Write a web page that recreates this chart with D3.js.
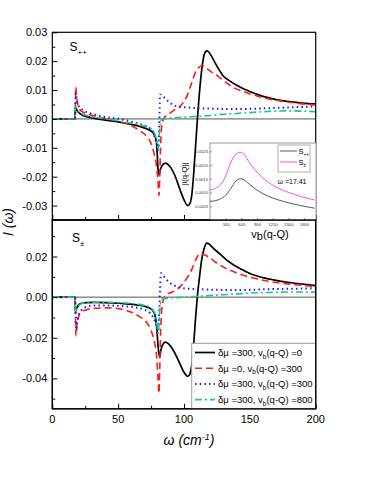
<!DOCTYPE html>
<html>
<head>
<meta charset="utf-8">
<script src="https://cdn.jsdelivr.net/npm/d3@7"></script>
<style>
    body { margin: 0; background: #ffffff; }
    svg { font-family: 'Liberation Sans', Arial, sans-serif; }
</style>
</head>
<body>
<script>
// S++ panel, [omega, I]
const top_black = [[0,0],[17.3,0],[17.6,0.0043],[18.5,0.0032],[20,0.0022],[23,0.0013],[27,0.0007],[32,0.0002],[40,-0.0004],[50,-0.001],[60,-0.0019],[67,-0.0027],[72,-0.0035],[76,-0.0046],[78,-0.006],[79.2,-0.0085],[79.8,-0.013],[80.3,-0.0175],[81,-0.0194],[82,-0.0175],[84,-0.0158],[86,-0.0153],[89,-0.0163],[93,-0.0195],[97,-0.0245],[100,-0.028],[102.8,-0.030],[104.5,-0.0293],[106,-0.026],[107.5,-0.018],[109,-0.008],[110.2,0],[112,0.0105],[114,0.019],[115.5,0.0225],[117.2,0.0236],[119,0.0231],[122,0.0208],[126,0.0175],[130,0.0148],[135,0.0131],[140,0.0117],[150,0.0095],[160,0.0078],[170,0.0067],[180,0.006],[190,0.0055],[200,0.0052]];
const top_red = [[0,0],[17.3,0],[17.8,0.011],[18.5,0.0075],[19.5,0.0048],[21,0.0032],[24,0.0022],[28,0.0015],[35,0.0007],[42,0],[50,-0.0008],[57,-0.0017],[62,-0.0028],[67,-0.0042],[72,-0.0062],[75,-0.0085],[77,-0.0115],[79,-0.016],[80.2,-0.021],[81,-0.0265],[81.6,-0.02],[82.2,-0.01],[83,-0.003],[85,0.0004],[89.4,0.002],[93,0.0032],[96.9,0.0043],[102,0.0077],[105.8,0.0124],[109.6,0.017],[113.9,0.0184],[117,0.0176],[121,0.0162],[125,0.0151],[130,0.0133],[137,0.011],[145,0.0095],[152,0.0084],[160,0.0074],[168,0.0066],[180,0.0058],[190,0.0052],[200,0.0048]];
const top_blue = [[0,0],[17.3,0],[17.8,0.0089],[18.5,0.0068],[19.8,0.0048],[21.5,0.0037],[23.5,0.003],[28.6,0.002],[35,0.0012],[41,0.0006],[51.4,0],[58,-0.0007],[64,-0.0015],[70,-0.0023],[74,-0.0032],[76.5,-0.0045],[78,-0.0067],[79.5,-0.009],[80.5,-0.0107],[81.2,-0.002],[81.8,0.0085],[83,0.0082],[85,0.0074],[87,0.0065],[90,0.0054],[93,0.0046],[97,0.0042],[105,0.0039],[112,0.0037],[125,0.0035],[137,0.0034],[150,0.0035],[163,0.0037],[180,0.004],[200,0.0043]];
const top_green = [[0,0],[17.3,0],[17.6,0.0043],[18.5,0.0035],[20,0.0026],[23,0.0017],[27,0.0011],[32,0.0006],[40,0.0001],[50,-0.0006],[58,-0.0013],[65,-0.0019],[70,-0.0025],[74,-0.0032],[77,-0.0045],[78.8,-0.0065],[79.8,-0.0092],[80.4,-0.0102],[81.2,-0.006],[82,-0.002],[83,0],[90,0.0003],[100,0.0006],[110,0.0009],[120,0.0012],[130,0.0016],[140,0.0019],[150,0.0022],[160,0.0025],[170,0.0027],[180,0.0028],[190,0.0027],[200,0.0025]];

// S+- panel
const bot_black = [[0,0],[17.3,0],[17.6,-0.007],[18.5,-0.0055],[20,-0.0038],[22,-0.003],[26,-0.0027],[32,-0.0026],[40,-0.0027],[50,-0.003],[58,-0.0034],[65,-0.0039],[70,-0.0045],[74,-0.0054],[76.5,-0.0068],[78,-0.009],[79.3,-0.015],[80.3,-0.024],[81.5,-0.0298],[82.5,-0.026],[84,-0.0232],[86,-0.0222],[89,-0.0235],[93,-0.0275],[97,-0.033],[100,-0.037],[102.8,-0.039],[104.5,-0.0378],[106,-0.033],[107.5,-0.022],[108.7,-0.011],[110.1,0],[111.8,0.01],[113.4,0.0184],[115.3,0.024],[117.2,0.0266],[119,0.0262],[122,0.0243],[127,0.0214],[132,0.0185],[137.4,0.016],[145,0.0133],[152.6,0.011],[160,0.0096],[168,0.0085],[180,0.0072],[190,0.0064],[200,0.0057]];
const bot_red = [[0,0],[17.3,0],[17.9,-0.019],[18.8,-0.013],[20,-0.0095],[22,-0.0075],[26,-0.0062],[32,-0.0055],[40,-0.0053],[48,-0.0055],[55,-0.0063],[61.5,-0.0078],[66,-0.0095],[71.7,-0.0125],[75,-0.0165],[77.5,-0.022],[79.3,-0.03],[80.3,-0.04],[81,-0.0474],[81.6,-0.035],[82.2,-0.018],[83,-0.007],[84.5,-0.001],[87,0.0012],[91,0.0025],[95,0.004],[99,0.0065],[103,0.0102],[106,0.0138],[109,0.0185],[112,0.0214],[115,0.021],[119,0.0196],[124.8,0.0168],[130,0.0148],[137.4,0.0126],[145,0.0108],[152.6,0.0094],[160,0.0083],[170,0.0072],[180,0.0064],[190,0.0058],[200,0.0052]];
const bot_blue = [[0,0],[17.3,0],[18.2,-0.016],[19,-0.012],[20,-0.0088],[22,-0.0065],[25,-0.005],[30,-0.0042],[40,-0.0041],[50,-0.0043],[58,-0.0047],[65,-0.0053],[70,-0.0062],[74,-0.0077],[77,-0.0105],[79,-0.0138],[80.5,-0.017],[81.3,-0.005],[82.5,0.0118],[84,0.0108],[86.9,0.0085],[89,0.0072],[91.9,0.006],[95,0.0052],[99.5,0.0044],[105,0.0041],[112,0.0039],[125,0.0036],[137,0.0035],[150,0.0036],[163,0.0039],[180,0.0041],[200,0.0044]];
const bot_green = [[0,0],[17.3,0],[17.7,-0.0075],[18.6,-0.0058],[20,-0.0042],[22,-0.0032],[26,-0.0027],[32,-0.0025],[40,-0.0025],[50,-0.0027],[58,-0.003],[65,-0.0035],[70,-0.0041],[74,-0.005],[76.5,-0.0065],[78.3,-0.009],[79.5,-0.0135],[80.4,-0.0178],[81.3,-0.009],[82.2,-0.003],[83.5,-0.0008],[90,-0.0004],[100,0],[110,0.0004],[120,0.0008],[130,0.0012],[140,0.0016],[150,0.002],[160,0.0022],[170,0.0024],[180,0.0025],[190,0.0025],[200,0.0024]];

// inset: |I(q-Q)| vs vb(q-Q) at omega = 17.41
const inset_spp = [[0,0.00068],[100,0.0007],[200,0.00077],[300,0.0009],[400,0.00115],[500,0.00142],[580,0.0015],[650,0.00146],[750,0.00131],[850,0.00116],[1000,0.00097],[1200,0.0008],[1400,0.00068],[1600,0.00058],[1800,0.0005],[2000,0.00043]];
const inset_spm = [[0,0.00109],[100,0.00115],[200,0.00128],[300,0.0016],[400,0.0021],[500,0.0024],[580,0.00246],[650,0.0024],[750,0.0021],[850,0.00185],[1000,0.00155],[1200,0.00127],[1400,0.00108],[1600,0.00094],[1800,0.00082],[2000,0.00073]];

const x_ticks = [0, 50, 100, 150, 200];
const x_minor = [25, 75, 125, 175];
const top_ticks = [-0.03, -0.02, -0.01, 0, 0.01, 0.02, 0.03];
const top_minor = [-0.035, -0.025, -0.015, -0.005, 0.005, 0.015, 0.025];
const bot_ticks = [-0.04, -0.02, 0, 0.02];
const bot_minor = [-0.05, -0.03, -0.01, 0.01, 0.03];
const inset_xticks = [300, 600, 900, 1200, 1500, 1800];
const inset_yticks = [0.0005, 0.001, 0.0015, 0.002, 0.0025];
const legend_labels = [['=300', '=0'], ['=0', '=300'], ['=300', '=300'], ['=300', '=800']];

(function() {
    const width = 374, height = 484;
    const left = 52.3, right = 315.7, top = 32.3, mid = 220, bottom = 408.8;

    let svg = d3.select('body').append('svg')
        .attr('width', width)
        .attr('height', height);

    let x = d3.scaleLinear().domain([0, 200]).range([left, right]);
    let y_top = d3.scaleLinear().domain([-0.035, 0.03]).range([mid, top]);
    let y_bot = d3.scaleLinear().domain([-0.055, 0.038]).range([bottom, mid]);

    const styles = [
        {color: '#000000', dash: null, w: 1.7},
        {color: '#ff1a1a', dash: '7,4', w: 1.6},
        {color: '#1a1aff', dash: '1.5,3.2', w: 2},
        {color: '#19c98c', dash: '7,3,2,3', w: 1.6}
    ];

    let fmt = (d) => (Math.abs(d) < 1e-9 ? '0.00' : d.toFixed(2));

    let draw_panel = function(y, series, ticks, minor, clip_id, y0, y1) {
        svg.append('clipPath').attr('id', clip_id)
            .append('rect')
            .attr('x', left).attr('y', y0)
            .attr('width', right - left).attr('height', y1 - y0);

        // zero line
        svg.append('line')
            .attr('x1', left).attr('x2', right)
            .attr('y1', y(0)).attr('y2', y(0))
            .attr('stroke', '#555555')
            .attr('stroke-width', 1);

        let line = d3.line()
            .x((d) => x(d[0]))
            .y((d) => y(d[1]))
            .curve(d3.curveMonotoneX);

        let g = svg.append('g').attr('clip-path', `url(#${clip_id})`);
        series.forEach(function(data, i) {
            g.append('path').datum(data)
                .attr('fill', 'none')
                .attr('stroke', styles[i].color)
                .attr('stroke-width', styles[i].w)
                .attr('stroke-dasharray', styles[i].dash)
                .attr('d', line);
        });

        // y axis, ticks pointing in
        let ax = svg.append('g')
            .attr('transform', `translate(${left},0)`)
            .call(d3.axisLeft(y).tickValues(ticks).tickSizeInner(-5).tickSizeOuter(0)
                .tickPadding(5).tickFormat(fmt));
        ax.select('.domain').remove();
        ax.selectAll('text').attr('font-size', 11).attr('font-family', "'Liberation Sans', Arial, sans-serif");
        ax.selectAll('line').attr('stroke-width', 1);

        svg.append('g')
            .attr('transform', `translate(${left},0)`)
            .call(d3.axisLeft(y).tickValues(minor).tickSizeInner(-3).tickSizeOuter(0).tickFormat(''))
            .select('.domain').remove();

        // x ticks on bottom edge, pointing up
        let xa = svg.append('g')
            .attr('transform', `translate(0,${y1})`)
            .call(d3.axisBottom(x).tickValues(x_ticks).tickSizeInner(-5).tickSizeOuter(0).tickFormat(''));
        xa.select('.domain').remove();
        let xm = svg.append('g')
            .attr('transform', `translate(0,${y1})`)
            .call(d3.axisBottom(x).tickValues(x_minor).tickSizeInner(-3).tickSizeOuter(0).tickFormat(''));
        xm.select('.domain').remove();

        svg.append('rect')
            .attr('x', left).attr('y', y0)
            .attr('width', right - left).attr('height', y1 - y0)
            .attr('fill', 'none')
            .attr('stroke', '#000000')
            .attr('stroke-width', 1.2);
    };

    draw_panel(y_top, [top_black, top_red, top_blue, top_green], top_ticks, top_minor, 'clip-top', top, mid);
    draw_panel(y_bot, [bot_black, bot_red, bot_blue, bot_green], bot_ticks, bot_minor, 'clip-bot', mid, bottom);

    // x tick labels
    svg.append('g').selectAll('text')
        .data(x_ticks)
        .enter().append('text')
        .attr('x', (d) => x(d))
        .attr('y', 423)
        .attr('text-anchor', 'middle')
        .attr('font-size', 11)
        .text((d) => d);

    // axis titles
    let xt = svg.append('text')
        .attr('x', 189).attr('y', 445)
        .attr('text-anchor', 'middle')
        .attr('font-size', 14)
        .attr('font-style', 'italic');
    xt.append('tspan').text('ω (cm');
    xt.append('tspan').attr('dy', -5).attr('font-size', 9).text('-1');
    xt.append('tspan').attr('dy', 5).text(')');

    svg.append('text')
        .attr('transform', 'translate(13,222) rotate(-90)')
        .attr('text-anchor', 'middle')
        .attr('font-size', 14)
        .attr('font-style', 'italic')
        .text('I (ω)');

    // panel labels
    let lab = function(px, py, sub) {
        let t = svg.append('text').attr('x', px).attr('y', py).attr('font-size', 12);
        t.append('tspan').text('S');
        t.append('tspan').attr('dy', 4).attr('font-size', 8).text(sub);
    };
    lab(69.5, 51, '++');
    lab(72, 242, '±');

    // inset
    const ix0 = 210, ix1 = 316, iy0 = 143, iy1 = 220;
    let ix = d3.scaleLinear().domain([0, 2030]).range([ix0, ix1]);
    let iy = d3.scaleLinear().domain([0, 0.0028]).range([iy1, iy0]);

    svg.append('rect')
        .attr('x', ix0).attr('y', iy0)
        .attr('width', ix1 - ix0).attr('height', iy1 - iy0)
        .attr('fill', '#ffffff')
        .attr('stroke', '#9a9a9a')
        .attr('stroke-width', 1);

    let iline = d3.line()
        .x((d) => ix(d[0]))
        .y((d) => iy(d[1]))
        .curve(d3.curveMonotoneX);

    svg.append('path').datum(inset_spp)
        .attr('fill', 'none').attr('stroke', '#444444').attr('stroke-width', 0.9)
        .attr('d', iline);
    svg.append('path').datum(inset_spm)
        .attr('fill', 'none').attr('stroke', '#ff33ff').attr('stroke-width', 0.9)
        .attr('d', iline);

    let iya = svg.append('g')
        .attr('transform', `translate(${ix0},0)`)
        .call(d3.axisLeft(iy).tickValues(inset_yticks).tickSizeInner(-2).tickSizeOuter(0)
            .tickPadding(2).tickFormat((d) => d.toFixed(4)));
    iya.select('.domain').remove();
    iya.selectAll('text').attr('font-size', 4.2).attr('fill', '#333333');
    iya.selectAll('line').attr('stroke', '#555555').attr('stroke-width', 0.6);

    let ixa = svg.append('g')
        .attr('transform', `translate(0,${iy1})`)
        .call(d3.axisBottom(ix).tickValues(inset_xticks).tickSizeInner(-2).tickSizeOuter(0)
            .tickPadding(3).tickFormat((d) => d));
    ixa.select('.domain').remove();
    ixa.selectAll('text').attr('font-size', 4.2).attr('fill', '#333333');
    ixa.selectAll('line').attr('stroke', '#555555').attr('stroke-width', 0.6);

    svg.append('text')
        .attr('transform', 'translate(187,174) rotate(-90)')
        .attr('text-anchor', 'middle')
        .attr('font-size', 7.5)
        .text('|I(q-Q)|');

    let vb = svg.append('text')
        .attr('x', 270).attr('y', 238)
        .attr('text-anchor', 'middle')
        .attr('font-size', 11);
    vb.append('tspan').text('v');
    vb.append('tspan').attr('dy', 2).text('b');
    vb.append('tspan').attr('dy', -2).text('(q-Q)');

    // inset legend
    let il = svg.append('g');
    il.append('rect')
        .attr('x', 278).attr('y', 145)
        .attr('width', 32).attr('height', 27)
        .attr('fill', '#ffffff')
        .attr('stroke', '#9a9a9a')
        .attr('stroke-width', 0.8);
    [['#444444', '++'], ['#ff33ff', '±']].forEach(function(item, i) {
        let yy = 151 + i * 11;
        il.append('line')
            .attr('x1', 280).attr('x2', 297)
            .attr('y1', yy).attr('y2', yy)
            .attr('stroke', item[0]).attr('stroke-width', 0.9);
        let t = il.append('text').attr('x', 298.5).attr('y', yy + 2.5).attr('font-size', 7.5);
        t.append('tspan').text('S');
        t.append('tspan').attr('dy', 2).attr('font-size', 4.5).text(item[1]);
    });

    svg.append('text')
        .attr('x', 292).attr('y', 184)
        .attr('text-anchor', 'middle')
        .attr('font-size', 7)
        .text('ω =17.41');

    // main legend
    let lg = svg.append('g');
    lg.append('rect')
        .attr('x', 191.7).attr('y', 343.3)
        .attr('width', right - 191.7).attr('height', bottom - 343.3)
        .attr('fill', '#ffffff')
        .attr('stroke', '#9a9a9a')
        .attr('stroke-width', 1);
    legend_labels.forEach(function(lbl, i) {
        let yy = 352.5 + i * 15.7;
        lg.append('line')
            .attr('x1', 195).attr('x2', 215)
            .attr('y1', yy).attr('y2', yy)
            .attr('stroke', styles[i].color)
            .attr('stroke-width', styles[i].w)
            .attr('stroke-dasharray', styles[i].dash);
        let t = lg.append('text').attr('x', 218).attr('y', yy + 3.5).attr('font-size', 9.5);
        t.append('tspan').text(`δμ ${lbl[0]}, v`);
        t.append('tspan').attr('dy', 2.5).attr('font-size', 6.5).text('b');
        t.append('tspan').attr('dy', -2.5).text(`(q-Q) ${lbl[1]}`);
    });
    svg.append('rect')
        .attr('x', left).attr('y', mid)
        .attr('width', right - left).attr('height', bottom - mid)
        .attr('fill', 'none')
        .attr('stroke', '#000000')
        .attr('stroke-width', 1.2);
}());
</script>
</body>
</html>
